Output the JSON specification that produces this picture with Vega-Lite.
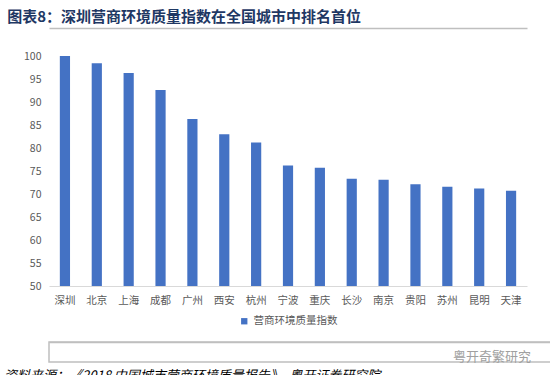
{
  "$schema": "https://vega.github.io/schema/vega-lite/v6.json",
  "padding": {"left": 3, "top": 10, "right": 0, "bottom": 0},
  "background": "white",
  "config": {
    "font": "Noto Sans CJK SC",
    "view": {"stroke": null},
    "legend": {"layout": {"bottom": {"anchor": "middle"}}}
  },
  "title": {
    "text": "图表8：深圳营商环境质量指数在全国城市中排名首位",
    "anchor": "start",
    "fontSize": 15,
    "fontWeight": "bold",
    "color": "#1F3864",
    "offset": 3,
    "dx": 4
  },
  "spacing": 14,
  "resolve": {"scale": {"color": "independent", "x": "independent", "y": "independent"}, "legend": {"color": "independent"}},
  "vconcat": [
    {
      "width": 478,
      "height": 230,
      "data": {
        "values": [
          {"city": "深圳", "v": 100, "s": "营商环境质量指数"},
          {"city": "北京", "v": 98.4, "s": "营商环境质量指数"},
          {"city": "上海", "v": 96.3, "s": "营商环境质量指数"},
          {"city": "成都", "v": 92.6, "s": "营商环境质量指数"},
          {"city": "广州", "v": 86.3, "s": "营商环境质量指数"},
          {"city": "西安", "v": 83.0, "s": "营商环境质量指数"},
          {"city": "杭州", "v": 81.2, "s": "营商环境质量指数"},
          {"city": "宁波", "v": 76.2, "s": "营商环境质量指数"},
          {"city": "重庆", "v": 75.7, "s": "营商环境质量指数"},
          {"city": "长沙", "v": 73.3, "s": "营商环境质量指数"},
          {"city": "南京", "v": 73.1, "s": "营商环境质量指数"},
          {"city": "贵阳", "v": 72.1, "s": "营商环境质量指数"},
          {"city": "苏州", "v": 71.6, "s": "营商环境质量指数"},
          {"city": "昆明", "v": 71.2, "s": "营商环境质量指数"},
          {"city": "天津", "v": 70.7, "s": "营商环境质量指数"}
        ]
      },
      "resolve": {"scale": {"x": "independent"}, "axis": {"x": "independent"}},
      "layer": [
        {
          "mark": {"type": "bar", "clip": true},
          "encoding": {
            "x": {
              "field": "city", "type": "nominal", "sort": null,
              "scale": {"paddingInner": 0.68, "paddingOuter": 0.34},
              "axis": {
                "title": null, "labelAngle": 0, "ticks": false,
                "domainColor": "#D9D9D9", "labelColor": "#595959",
                "labelFontSize": 10.5, "labelPadding": 9
              }
            },
            "y": {
              "field": "v", "type": "quantitative",
              "scale": {"domain": [50, 100], "zero": false, "nice": false},
              "axis": {
                "title": null, "values": [50, 55, 60, 65, 70, 75, 80, 85, 90, 95, 100],
                "grid": false, "domain": false, "ticks": false,
                "labelColor": "#595959", "labelFontSize": 10.5, "labelPadding": 8,
                "minExtent": 45, "maxExtent": 45
              }
            },
            "color": {
              "field": "s", "type": "nominal",
              "scale": {"range": ["#4472C4"]},
              "legend": {
                "title": null, "orient": "bottom", "symbolType": "square",
                "symbolSize": 40, "labelColor": "#595959", "labelFontSize": 10.5,
                "offset": 10
              }
            }
          }
        },
        {
          "mark": {"type": "text", "fontSize": 1},
          "encoding": {
            "x": {
              "datum": 0, "type": "quantitative", "scale": {"domain": [0, 1]},
              "axis": {"orient": "top", "offset": 28, "title": null, "labels": false, "ticks": false, "grid": false,
                       "domain": true, "domainColor": "#BFBFBF", "domainWidth": 1.5, "minExtent": 0, "maxExtent": 0}
            },
            "text": {"datum": ""}
          }
        }
      ]
    },
    {
      "width": 502,
      "height": 0,
      "view": {"stroke": "#BFBFBF", "strokeWidth": 1.5},
      "title": {
        "text": "资料来源：《2018 中国城市营商环境质量报告》、粤开证券研究院",
        "orient": "bottom",
        "anchor": "start",
        "frame": "group",
        "fontSize": 13,
        "fontStyle": "italic",
        "fontWeight": "normal",
        "color": "#000000",
        "offset": 6,
        "dx": -45
      },
      "data": {"values": [{"b": 1, "t": "粤开奇繁研究"}]},
      "mark": {"type": "text", "align": "right", "baseline": "middle", "color": "#A0A0A0", "fontSize": 13, "dx": -20, "dy": 5},
      "encoding": {
        "x": {
          "field": "b", "type": "quantitative", "scale": {"domain": [0, 1]},
          "axis": {"orient": "top", "title": null, "labels": false, "ticks": false, "grid": false,
                   "domain": true, "domainColor": "#BFBFBF", "domainWidth": 1.5, "minExtent": 0, "maxExtent": 0}
        },
        "text": {"field": "t"}
      }
    }
  ]
}
